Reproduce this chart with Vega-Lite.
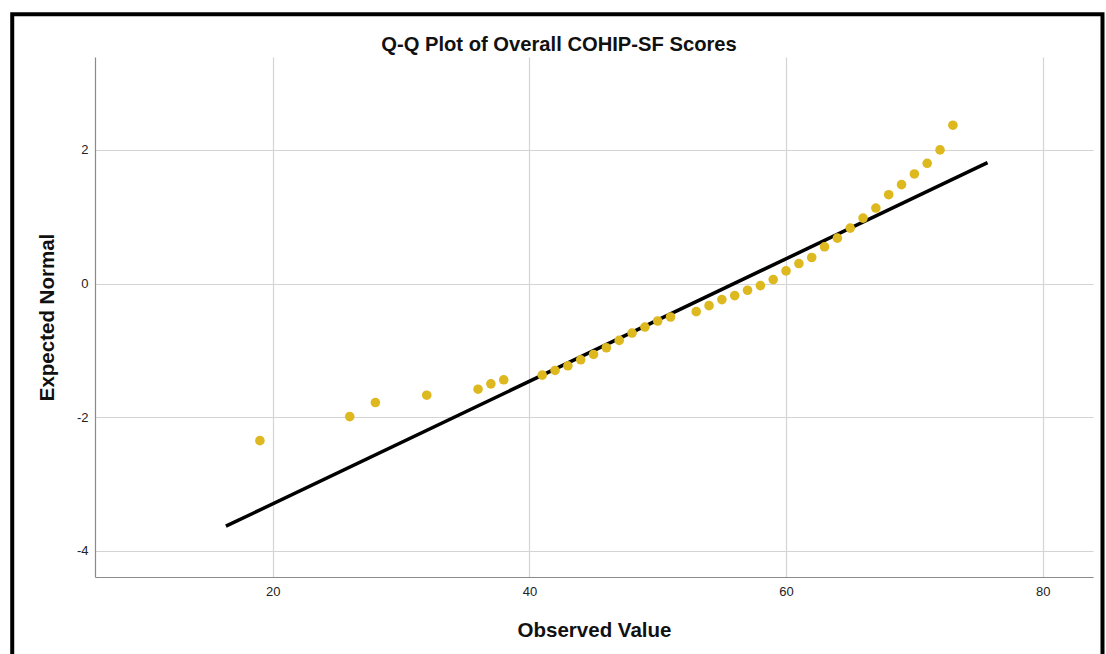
{
  "$schema": "https://vega.github.io/schema/vega-lite/v6.json",
  "autosize": "none",
  "width": 998,
  "height": 520,
  "padding": {"left": 95, "top": 57, "right": 13, "bottom": 77},
  "background": "white",
  "config": {
    "view": {"stroke": null},
    "font": "Liberation Sans",
    "axis": {
      "gridColor": "#d4d4d4",
      "gridWidth": 1.2,
      "domainColor": "#8a8a8a",
      "domainWidth": 1.2,
      "ticks": false,
      "labelFont": "Liberation Sans",
      "labelFontSize": 13,
      "labelColor": "#222222",
      "titleFont": "Liberation Sans",
      "titleFontSize": 20.5,
      "titleFontWeight": "bold",
      "titleColor": "#111111"
    }
  },
  "title": {
    "text": "Q-Q Plot of Overall COHIP-SF Scores",
    "fontSize": 20.2,
    "fontWeight": "bold",
    "font": "Liberation Sans",
    "color": "#111111",
    "anchor": "middle",
    "dx": -35,
    "offset": -43
  },
  "datasets": {
    "points": [
      {"observed": 19, "expected": -2.35},
      {"observed": 26, "expected": -1.99},
      {"observed": 28, "expected": -1.78},
      {"observed": 32, "expected": -1.67},
      {"observed": 36, "expected": -1.58},
      {"observed": 37, "expected": -1.50},
      {"observed": 38, "expected": -1.44},
      {"observed": 41, "expected": -1.37},
      {"observed": 42, "expected": -1.30},
      {"observed": 43, "expected": -1.23},
      {"observed": 44, "expected": -1.14},
      {"observed": 45, "expected": -1.06},
      {"observed": 46, "expected": -0.96},
      {"observed": 47, "expected": -0.85},
      {"observed": 48, "expected": -0.74},
      {"observed": 49, "expected": -0.65},
      {"observed": 50, "expected": -0.56},
      {"observed": 51, "expected": -0.50},
      {"observed": 53, "expected": -0.42},
      {"observed": 54, "expected": -0.33},
      {"observed": 55, "expected": -0.24},
      {"observed": 56, "expected": -0.18},
      {"observed": 57, "expected": -0.10},
      {"observed": 58, "expected": -0.03},
      {"observed": 59, "expected": 0.06},
      {"observed": 60, "expected": 0.19},
      {"observed": 61, "expected": 0.30},
      {"observed": 62, "expected": 0.39},
      {"observed": 63, "expected": 0.55},
      {"observed": 64, "expected": 0.68},
      {"observed": 65, "expected": 0.83},
      {"observed": 66, "expected": 0.98},
      {"observed": 67, "expected": 1.13},
      {"observed": 68, "expected": 1.33},
      {"observed": 69, "expected": 1.48},
      {"observed": 70, "expected": 1.64},
      {"observed": 71, "expected": 1.80},
      {"observed": 72, "expected": 2.00},
      {"observed": 73, "expected": 2.37}
    ],
    "refline": [
      {"observed": 16.35, "expected": -3.63},
      {"observed": 75.7, "expected": 1.81}
    ],
    "frame": [
      {"x1": -0.3, "x2": 84.66, "y1": 4.03, "y2": -6.5}
    ]
  },
  "layer": [
    {
      "data": {"name": "frame"},
      "mark": {"type": "rect", "fill": null, "fillOpacity": 0, "stroke": "black", "strokeWidth": 4, "clip": false},
      "encoding": {
        "x": {"field": "x1", "type": "quantitative", "scale": {"domain": [6.15, 83.92], "nice": false, "zero": false}},
        "x2": {"field": "x2"},
        "y": {"field": "y1", "type": "quantitative", "scale": {"domain": [-4.39, 3.39], "nice": false, "zero": false}},
        "y2": {"field": "y2"}
      }
    },
    {
      "data": {"name": "refline"},
      "mark": {"type": "line", "color": "black", "strokeWidth": 3.5, "strokeCap": "butt"},
      "encoding": {
        "x": {"field": "observed", "type": "quantitative"},
        "y": {"field": "expected", "type": "quantitative"}
      }
    },
    {
      "data": {"name": "points"},
      "mark": {"type": "circle", "color": "#DDB81F", "opacity": 1, "size": 92},
      "encoding": {
        "x": {
          "field": "observed", "type": "quantitative",
          "scale": {"domain": [6.15, 83.92], "nice": false, "zero": false},
          "axis": {"title": "Observed Value", "values": [20, 40, 60, 80], "labelPadding": 8, "titlePadding": 22}
        },
        "y": {
          "field": "expected", "type": "quantitative",
          "scale": {"domain": [-4.39, 3.39], "nice": false, "zero": false},
          "axis": {"title": "Expected Normal", "values": [-4, -2, 0, 2], "labelExpr": "'' + datum.value", "labelPadding": 7, "titlePadding": 19}
        }
      }
    }
  ]
}
